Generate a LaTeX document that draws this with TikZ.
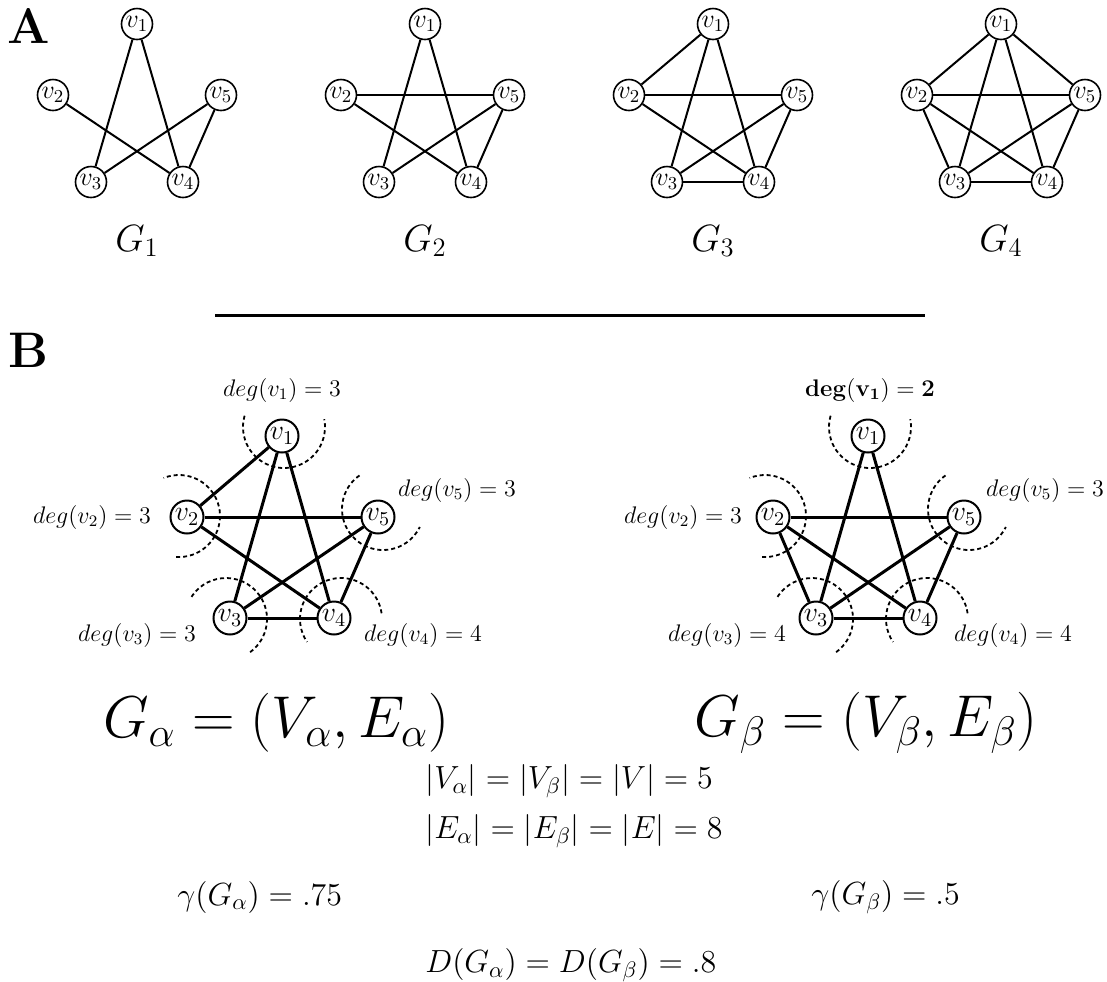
\RequirePackage{fix-cm}
\documentclass[tikz,border=0pt]{standalone}
\begin{document}
\begin{tikzpicture}[x=0.5pt,y=-0.5pt,
  an/.style={circle,draw,line width=0.8pt,inner sep=0pt,minimum size=15.5pt,font=\fontsize{13}{15}\selectfont},
  bn/.style={circle,draw,line width=1pt,inner sep=0pt,minimum size=16.5pt,font=\fontsize{14}{16}\selectfont},
  ae/.style={line width=1pt},
  be/.style={line width=1.5pt},
  darc/.style={line width=0.9pt,dash pattern=on 2pt off 1.5pt},
  deglab/.style={font=\fontsize{12}{14}\selectfont},
  glab/.style={font=\fontsize{19}{22}\selectfont},
  bigexpr/.style={font=\fontsize{29.5}{34}\selectfont},
  eq/.style={font=\fontsize{16}{19}\selectfont},
  panel/.style={font=\fontsize{25}{28}\selectfont\bfseries}]
\useasboundingbox (0,0) rectangle (1107,981);

% panel labels
\node[panel] (pA) at (29,26) {A};
\node[panel] (pB) at (29,350) {B};

% separator
\coordinate (sepL) at (215,315);
\coordinate (sepR) at (925,315);
\draw[line width=1.5pt] (sepL) -- (sepR);

% panel A graphs
\foreach \g/\cx in {1/137,2/425,3/713,4/1001}{
  \node[an] (a\g-1) at (\cx,24) {$v_1$};
  \node[an] (a\g-2) at (\cx-84,95) {$v_2$};
  \node[an] (a\g-5) at (\cx+84,95) {$v_5$};
  \node[an] (a\g-3) at (\cx-46,182) {$v_3$};
  \node[an] (a\g-4) at (\cx+46,182) {$v_4$};
  \node[glab] (a\g-lab) at (\cx,241) {$G_{\g}$};
}
% G1
\foreach \u/\v in {1/3,1/4,2/4,5/3,5/4}{\draw[ae] (a1-\u) -- (a1-\v);}
% G2
\foreach \u/\v in {1/3,1/4,2/5,2/4,5/3,5/4}{\draw[ae] (a2-\u) -- (a2-\v);}
% G3
\foreach \u/\v in {1/2,1/3,1/4,2/5,2/4,5/3,5/4,3/4}{\draw[ae] (a3-\u) -- (a3-\v);}
% G4
\foreach \u/\v in {1/2,1/3,1/4,1/5,2/3,2/4,2/5,3/4,3/5,4/5}{\draw[ae] (a4-\u) -- (a4-\v);}

% panel B graphs
\foreach \g/\dx in {al/0,be/586}{
  \node[bn] (\g-1) at (282+\dx,436) {$v_1$};
  \node[bn] (\g-2) at (187+\dx,517) {$v_2$};
  \node[bn] (\g-5) at (378+\dx,517) {$v_5$};
  \node[bn] (\g-3) at (230+\dx,618) {$v_3$};
  \node[bn] (\g-4) at (334+\dx,618) {$v_4$};
  \draw[darc] ([shift={(2,-9)}]\g-1.center) ++(164:20.5pt) arc[start angle=164,end angle=371,radius=20.5pt];
  \draw[darc] ([shift={(-8,-1)}]\g-2.center) ++(-94:20.5pt) arc[start angle=-94,end angle=112,radius=20.5pt];
  \draw[darc] ([shift={(5,-8)}]\g-5.center) ++(125:20.5pt) arc[start angle=125,end angle=334,radius=20.5pt];
  \draw[darc] ([shift={(-4,1)}]\g-3.center) ++(-54:20.5pt) arc[start angle=-54,end angle=151,radius=20.5pt];
  \draw[darc] ([shift={(7,1)}]\g-4.center) ++(8:20.5pt) arc[start angle=8,end angle=214,radius=20.5pt];
}
\foreach \u/\v in {1/2,1/3,1/4,2/5,2/4,5/3,5/4,3/4}{\draw[be] (al-\u) -- (al-\v);}
\foreach \u/\v in {1/3,1/4,2/5,2/3,2/4,5/3,5/4,3/4}{\draw[be] (be-\u) -- (be-\v);}

% degree labels
\node[deglab] (dal1) at (282,390) {$deg(v_1) = 3$};
\node[deglab] (dal2) at (92,517) {$deg(v_2) = 3$};
\node[deglab] (dal5) at (457,490) {$deg(v_5) = 3$};
\node[deglab] (dal3) at (137,635) {$deg(v_3) = 3$};
\node[deglab] (dal4) at (423,635) {$deg(v_4) = 4$};
\node[deglab] (dbe1) at (870,390) {$\mathbf{deg(v_1) = 2}$};
\node[deglab] (dbe2) at (683,517) {$deg(v_2) = 3$};
\node[deglab] (dbe5) at (1045,490) {$deg(v_5) = 3$};
\node[deglab] (dbe3) at (727,635) {$deg(v_3) = 4$};
\node[deglab] (dbe4) at (1013,635) {$deg(v_4) = 4$};

% expressions
\node[bigexpr] (galpha) at (276,723) {$G_\alpha = (V_\alpha, E_\alpha)$};
\node[bigexpr] (gbeta) at (866,723) {$G_\beta = (V_\beta, E_\beta)$};
\node[eq,anchor=west,inner sep=0pt] (vcard) at (425,781) {$|V_\alpha| = |V_\beta| = |V| = 5$};
\node[eq,anchor=west,inner sep=0pt] (ecard) at (425,831) {$|E_\alpha| = |E_\beta| = |E| = 8$};
\node[eq,anchor=west,inner sep=0pt] (gamA) at (177,897) {$\gamma(G_\alpha) = .75$};
\node[eq,anchor=west,inner sep=0pt] (gamB) at (811,897) {$\gamma(G_\beta) = .5$};
\node[eq,anchor=west,inner sep=0pt] (dens) at (425,965) {$D(G_\alpha) = D(G_\beta) = .8$};
\end{tikzpicture}
\end{document}
